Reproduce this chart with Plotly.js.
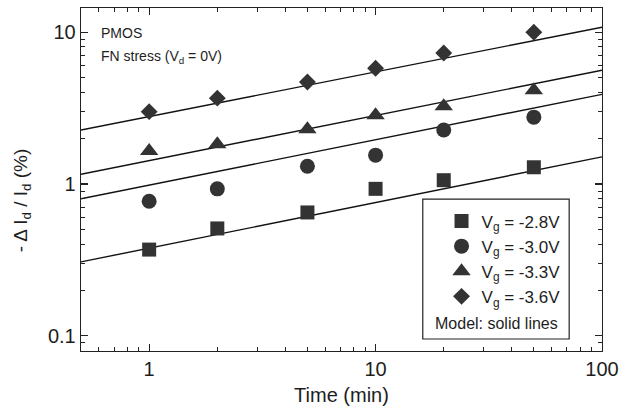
<!DOCTYPE html>
<html>
<head>
<meta charset="utf-8">
<script src="https://cdn.plot.ly/plotly-3.0.1.min.js"></script>
<style>html,body{margin:0;padding:0;background:#fff;}#chart{width:625px;height:415px;}</style>
</head>
<body>
<div id="chart"></div>
<script>
// Measured data (Time in min, -ΔId/Id in %)
var time = [1, 2, 5, 10, 20, 50];
var vg28 = [0.37, 0.51, 0.65, 0.93, 1.06, 1.29];
var vg30 = [0.77, 0.93, 1.31, 1.55, 2.27, 2.76];
var vg33 = [1.65, 1.83, 2.3, 2.84, 3.26, 4.15];
var vg36 = [3.0, 3.68, 4.7, 5.8, 7.3, 10.0];

// Model lines (endpoints)
var modelTime = [0.5, 100];
var model28 = [0.307, 1.51];
var model30 = [0.80, 3.9];
var model33 = [1.16, 5.62];
var model36 = [2.27, 10.8];

var seriesNames = ['V<sub>g</sub> = -2.8V', 'V<sub>g</sub> = -3.0V', 'V<sub>g</sub> = -3.3V', 'V<sub>g</sub> = -3.6V'];
var symbols = ['square', 'circle', 'triangle-up', 'diamond'];
var sizes = [14, 15, 16, 13];
var xTicks = [1, 10, 100];
var xTickText = ['1', '10', '100'];
var yTicks = [0.1, 1, 10];
var yTickText = ['0.1', '1', '10'];

// minor log ticks (2..9 in each decade)
function minorTicks(decades) {
  var out = [];
  decades.forEach(function (d) { for (var k = 2; k <= 9; k++) out.push(+(k * d).toPrecision(3)); });
  return out;
}
var xMinor = minorTicks([0.1, 1, 10]);
var yMinor = minorTicks([0.01, 0.1, 1, 10]);

var markerColor = '#333333';
var dataSets = [vg28, vg30, vg33, vg36];
var modelSets = [model28, model30, model33, model36];

var traces = [];
modelSets.forEach(function (m) {
  traces.push({x: modelTime, y: m, mode: 'lines', line: {color: '#111', width: 1.4}, showlegend: false, hoverinfo: 'skip'});
});
dataSets.forEach(function (d, i) {
  traces.push({x: time, y: d, mode: 'markers', name: seriesNames[i],
    marker: {symbol: symbols[i], size: sizes[i], color: markerColor}});
});

var family = '"Liberation Sans", Arial, sans-serif';
var txtColor = '#1e1e1e';
var xRange = [Math.log10(0.5), 2];
var yRange = [-1.1, 1.16];

var axisCommon = {
  type: 'log', showgrid: false, zeroline: false, showline: true, linecolor: '#222', linewidth: 1.3,
  mirror: 'allticks', ticks: 'inside', ticklen: 7, tickwidth: 1.2, tickcolor: '#222',
  tickfont: {family: family, size: 20, color: txtColor}
};

var layout = {
  width: 625, height: 415,
  margin: {l: 81, r: 23, t: 8, b: 64},
  paper_bgcolor: '#fff', plot_bgcolor: '#fff',
  font: {family: family, color: txtColor},
  showlegend: true,
  xaxis: Object.assign({}, axisCommon, {
    range: xRange, tickmode: 'array', tickvals: xTicks, ticktext: xTickText,
    minor: {tickmode: 'array', tickvals: xMinor, ticks: 'inside', ticklen: 4, tickwidth: 1, tickcolor: '#222', showgrid: false},
    title: {text: 'Time (min)', font: {family: family, size: 20, color: txtColor}, standoff: 8}
  }),
  yaxis: Object.assign({}, axisCommon, {
    range: yRange, tickmode: 'array', tickvals: yTicks, ticktext: yTickText,
    minor: {tickmode: 'array', tickvals: yMinor, ticks: 'inside', ticklen: 4, tickwidth: 1, tickcolor: '#222', showgrid: false}
  }),
  legend: {
    x: 0.692, y: 0.43, xanchor: 'left', yanchor: 'top',
    bgcolor: 'rgba(255,255,255,0)', borderwidth: 0,
    font: {family: family, size: 17, color: txtColor},
    tracegroupgap: 0, itemsizing: 'trace'
  },
  shapes: [{type: 'rect', xref: 'paper', yref: 'paper', x0: 0.656, x1: 0.937, y0: 0.035, y1: 0.443,
    line: {color: '#222', width: 1.2}, fillcolor: 'rgba(255,255,255,0)', layer: 'above'}],
  annotations: [
    {xref: 'paper', yref: 'paper', x: -0.113, y: 0.44, xanchor: 'center', yanchor: 'middle', showarrow: false,
      textangle: -90, text: '- Δ I<sub>d</sub> / I<sub>d</sub> (%)', font: {family: family, size: 19, color: txtColor}},
    {xref: 'paper', yref: 'paper', x: 0.035, y: 0.928, xanchor: 'left', yanchor: 'middle', showarrow: false,
      text: 'PMOS', font: {family: family, size: 14, color: txtColor}},
    {xref: 'paper', yref: 'paper', x: 0.035, y: 0.858, xanchor: 'left', yanchor: 'middle', showarrow: false,
      text: 'FN stress (V<sub>d</sub> = 0V)', font: {family: family, size: 14, color: txtColor}},
    {xref: 'paper', yref: 'paper', x: 0.797, y: 0.079, xanchor: 'center', yanchor: 'middle', showarrow: false,
      text: 'Model: solid lines', font: {family: family, size: 16, color: txtColor}}
  ]
};

Plotly.newPlot('chart', traces, layout, {staticPlot: true, displayModeBar: false});
</script>
</body>
</html>
